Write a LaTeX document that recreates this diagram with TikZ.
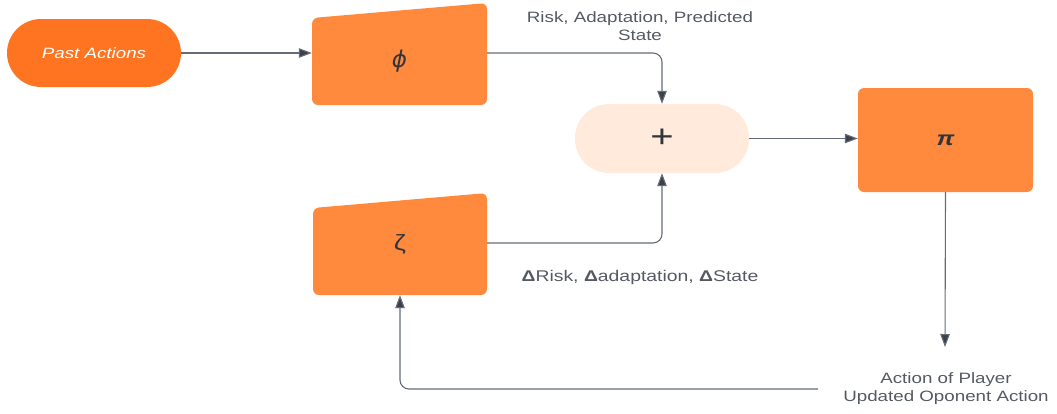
\documentclass[tikz,border=0pt]{standalone}
\usepackage{fontspec}
\setmainfont{Liberation Sans}
\newfontfamily\lbl[FakeStretch=1.25]{Liberation Sans}
\newfontfamily\dvs{DejaVu Sans}
\usetikzlibrary{arrows.meta}
\definecolor{pastc}{HTML}{FF7421}
\definecolor{boxc}{HTML}{FF8A3D}
\definecolor{plusc}{HTML}{FFEADC}
\definecolor{linec}{HTML}{656C78}
\definecolor{tipc}{HTML}{3A414D}
\definecolor{txtc}{HTML}{555A62}
\definecolor{symc}{HTML}{30353D}
\tikzset{
  conn/.style={draw=linec, line width=1.1pt, rounded corners=9pt,
    -{Triangle[length=13pt,width=9.5pt,fill=tipc]}},
  lbltext/.style={text=txtc, font=\lbl\fontsize{15}{18}\selectfont, align=center, inner sep=2pt},
  holder/.style={rectangle, inner sep=0pt, text=symc},
}
\begin{document}
\begin{tikzpicture}[x=1pt,y=-1pt]
\useasboundingbox (0,0) rectangle (1057,413);
% Past actions pill
\node[rectangle, fill=pastc, rounded corners=34pt, minimum width=174pt, minimum height=68pt,
  text=white, font=\lbl\fontsize{15}{18}\selectfont\itshape] (past) at (94,53) {Past Actions};
% phi trapezoid
\fill[boxc, rounded corners=6pt] (312,18) -- (487,3) -- (487,105) -- (312,105) -- cycle;
\node[holder, minimum width=175pt, minimum height=87pt, font=\dvs\fontsize{23}{25}\selectfont\itshape] (phi) at (399.5,61.5) {ϕ};
% zeta trapezoid
\fill[boxc, rounded corners=6pt] (313,208) -- (487,193) -- (487,295) -- (313,295) -- cycle;
\node[holder, minimum width=174pt, minimum height=102pt, font=\lbl\fontsize{22}{24}\selectfont] (zeta) at (400,244) {\raisebox{-5pt}{ζ}};
% plus pill
\node[rectangle, fill=plusc, rounded corners=34pt, minimum width=174pt, minimum height=69pt,
  text=symc, font=\lbl\fontsize{32}{34}\selectfont] (plus) at (662,138.5) {+};
% pi box
\node[rectangle, fill=boxc, rounded corners=6pt, minimum width=175pt, minimum height=104pt,
  text=symc, font=\lbl\fontsize{20}{22}\selectfont\bfseries\itshape] (pi) at (945.5,140) {π};
% labels
\node[lbltext] (toplbl) at (640,26) {Risk, Adaptation, Predicted\\State};
\node[lbltext, font=\lbl\fontsize{15.5}{18}\selectfont] (dlbl) at (640,277) {\textbf{Δ}Risk, \textbf{Δ}adaptation, \textbf{Δ}State};
\node[lbltext] (act) at (946,389) {Action of Player\\Updated Oponent Action};
\coordinate (actend) at (945,347);
\coordinate (ret) at (818,389);
\coordinate (zout) at (487,243);
% connectors
\draw[conn] (past.east) -- (past.east -| phi.west);
\draw[conn] (past.east -| phi.east) -| (plus.north);
\draw[conn] (zout) -| (plus.south);
\draw[conn] (plus.east) -- (plus.east -| pi.west);
\draw[conn] (pi.south) -- (actend);
\draw[conn] (ret) -| (zeta.south);
\end{tikzpicture}
\end{document}
